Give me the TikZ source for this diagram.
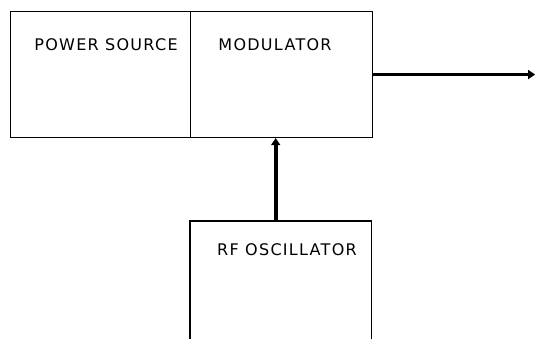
\documentclass[tikz,border=0pt]{standalone}
\usepackage{fontspec}
\setmainfont{DejaVu Sans}[LetterSpace=8]
\usetikzlibrary{arrows.meta,calc}
\tikzset{
  box/.style={draw=black, line width=1.1pt, inner sep=0pt},
  lbl/.style={font=\fontsize{16}{19}\selectfont, inner sep=0pt},
  arr/.style={line width=3.8pt, -{Triangle[length=7pt,width=9pt]}}
}
\begin{document}
\begin{tikzpicture}[x=1pt,y=1pt]
\useasboundingbox (0,0) rectangle (535,339);
\node[box, minimum width=180pt, minimum height=126pt, anchor=north west] (ps) at (10,328) {};
\node[box, minimum width=182pt, minimum height=126pt, anchor=north west] (mod) at (190,328) {};
\node[lbl] (pst) at (106,294) {POWER SOURCE};
\node[lbl] (modt) at (275,294) {MODULATOR};
\node[minimum width=181pt, minimum height=140pt, anchor=north west, inner sep=0pt] (rf) at (190,118) {};
\draw[line width=1.1pt] (rf.south west) -- (rf.north west) -- (rf.north east) -- (rf.south east);
\node[lbl] (rft) at (287,89) {RF OSCILLATOR};
\coordinate (out) at ($(mod.east)+(162,0)$);
\draw[arr] (mod.east) -- (out);
\draw[arr] ([xshift=-5pt]rf.north) -- ([xshift=-5pt]rf.north |- mod.south);
\end{tikzpicture}
\end{document}
